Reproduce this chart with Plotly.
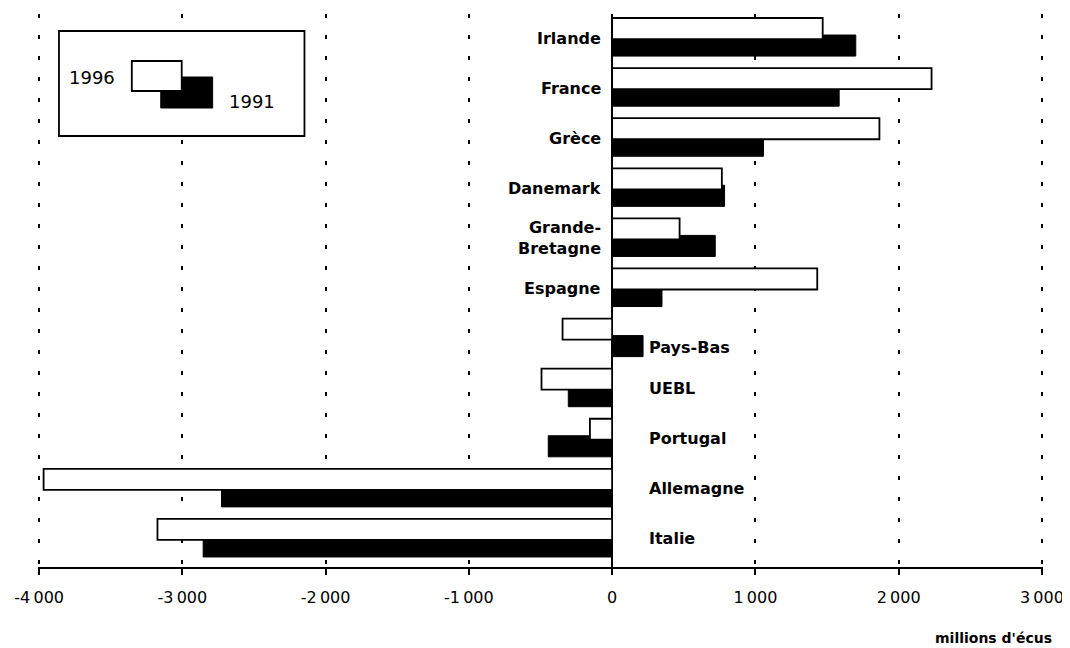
import plotly.graph_objects as go

# ---- data (millions d'écus) ----
pays = ["Irlande", "France", "Grèce", "Danemark", "Grande-Bretagne", "Espagne",
        "Pays-Bas", "UEBL", "Portugal", "Allemagne", "Italie"]
etiquettes = ["Irlande", "France", "Grèce", "Danemark", "Grande-<br>Bretagne", "Espagne",
              "Pays-Bas", "UEBL", "Portugal", "Allemagne", "Italie"]
val_1996 = [1470, 2230, 1866, 766, 471, 1432, -346, -493, -155, -3969, -3174]
val_1991 = [1701, 1585, 1057, 785, 720, 348, 216, -306, -446, -2727, -2855]
tick_vals = [-4000, -3000, -2000, -1000, 0, 1000, 2000, 3000]
tick_text = ["-4\u2009000", "-3\u2009000", "-2\u2009000", "-1\u2009000", "0",
             "1\u2009000", "2\u2009000", "3\u2009000"]

OFF = 8  # page body margin
W, H = 1070 - OFF, 648 - OFF
# target page-pixel plot area: x 37..1044 (range -4008..3008), y 14..567
L, T = 37 - OFF, 14 - OFF
R = W - (1044 - OFF)
B = H - (567 - OFF)
pw, ph = W - L - R, H - T - B


def px(x):
    return (x - OFF - L) / pw


def py(y):
    return (H - B - (y - OFF)) / ph


fig = go.Figure()
fig.add_trace(go.Bar(
    y=pays, x=val_1991, orientation="h", name="1991",
    offset=-0.04, width=0.42,
    marker=dict(color="black", line=dict(color="black", width=1)),
))
fig.add_trace(go.Bar(
    y=pays, x=val_1996, orientation="h", name="1996",
    offset=-0.38, width=0.42,
    marker=dict(color="white", line=dict(color="black", width=1.8)),
))

annotations = []
for name, lab, v96, v91 in zip(pays, etiquettes, val_1996, val_1991):
    if v96 > 0 and v91 > 0:
        annotations.append(dict(x=0, y=name, xref="x", yref="y", text="<b>%s</b>" % lab,
                                showarrow=False, xanchor="right", yanchor="middle",
                                align="right", xshift=-9, yshift=-1,
                                font=dict(family="DejaVu Sans", size=16, color="black")))
    else:
        ys = -10 if name == "Pays-Bas" else -1
        annotations.append(dict(x=0, y=name, xref="x", yref="y", text="<b>%s</b>" % lab,
                                showarrow=False, xanchor="left", yanchor="middle",
                                align="left", xshift=35, yshift=ys,
                                font=dict(family="DejaVu Sans", size=16, color="black")))

annotations.append(dict(x=px(1055), y=py(638), xref="paper", yref="paper",
                        text="<b>millions d'écus</b>", showarrow=False,
                        xanchor="right", yanchor="middle",
                        font=dict(family="DejaVu Sans", size=14, color="black")))
annotations.append(dict(x=px(91), y=py(77), xref="paper", yref="paper", text="1996",
                        showarrow=False, xanchor="center", yanchor="middle",
                        font=dict(family="DejaVu Sans", size=18, color="black")))
annotations.append(dict(x=px(251), y=py(101), xref="paper", yref="paper", text="1991",
                        showarrow=False, xanchor="center", yanchor="middle",
                        font=dict(family="DejaVu Sans", size=18, color="black")))

shapes = [
    dict(type="rect", xref="paper", yref="paper", x0=px(58), x1=px(304), y0=py(31), y1=py(136),
         fillcolor="white", line=dict(color="black", width=1.8), layer="above"),
    dict(type="rect", xref="paper", yref="paper", x0=px(160), x1=px(212), y0=py(77), y1=py(108),
         fillcolor="black", line=dict(color="black", width=1), layer="above"),
    dict(type="rect", xref="paper", yref="paper", x0=px(131), x1=px(181), y0=py(61), y1=py(91),
         fillcolor="white", line=dict(color="black", width=1.8), layer="above"),
]

fig.update_layout(
    width=W, height=H,
    margin=dict(l=L, r=R, t=T, b=B, pad=0),
    paper_bgcolor="white", plot_bgcolor="white",
    barmode="overlay", showlegend=False,
    annotations=annotations, shapes=shapes,
    font=dict(family="DejaVu Sans", color="black"),
    xaxis=dict(
        range=[-4008, 3008], tickvals=tick_vals, ticktext=tick_text,
        showgrid=True, gridcolor="black", gridwidth=2, griddash="4px,17px",
        zeroline=True, zerolinecolor="black", zerolinewidth=1.8,
        showline=True, linecolor="black", linewidth=1.8,
        ticks="outside", ticklen=6, tickwidth=1.5, tickcolor="black",
        tickfont=dict(family="DejaVu Sans", size=16, color="black"),
        ticklabelstandoff=9,
    ),
    yaxis=dict(
        type="category", categoryorder="array", categoryarray=pays,
        range=[10.58, -0.46], showticklabels=False, showgrid=False,
        zeroline=False, showline=False, ticks="",
    ),
)

fig.write_html("out.html")
